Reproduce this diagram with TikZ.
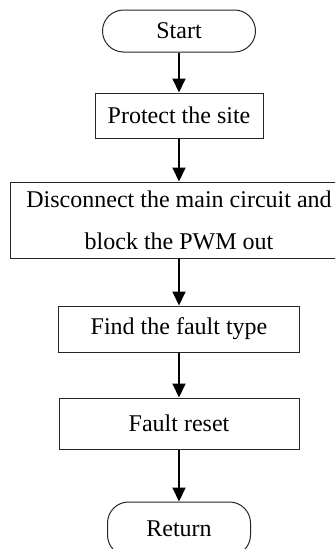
\documentclass[tikz,border=0pt]{standalone}
\usepackage{fontspec}
\setmainfont{Liberation Serif}
\usetikzlibrary{arrows.meta}
\begin{document}
\begin{tikzpicture}[x=1pt,y=-1pt,
  every node/.style={font=\fontsize{24}{42}\selectfont, inner sep=0pt, align=center},
  procbox/.style={draw=black!85, line width=1pt, rectangle},
  termbox/.style={draw=black!85, line width=1pt, rectangle, rounded corners=21pt},
  arr/.style={line width=2pt, -{Triangle[length=14pt,width=13pt]}}]
\useasboundingbox (0,0) rectangle (335,549);
\clip (0,0) rectangle (335,549);
\node[termbox, minimum width=153pt, minimum height=42pt] (start) at (179,31) {Start};
\node[procbox, minimum width=168pt, minimum height=45pt] (protect) at (179,115.5) {Protect the site};
\node[procbox, minimum width=338pt, minimum height=76pt] (disc) at (179,220) {Disconnect the main circuit and\\block the PWM out};
\node[procbox, minimum width=241pt, minimum height=46pt] (find) at (179,329) {Find the fault type};
\node[procbox, minimum width=240pt, minimum height=51pt] (reset) at (179,423.5) {Fault reset};
\node[termbox, minimum width=143pt, minimum height=54pt] (ret) at (179,529) {Return};
\draw[arr] (start) -- (protect);
\draw[arr] (protect) -- (disc);
\draw[arr] (disc) -- (find);
\draw[arr] (find) -- (reset);
\draw[arr] (reset) -- (ret);
\end{tikzpicture}
\end{document}
